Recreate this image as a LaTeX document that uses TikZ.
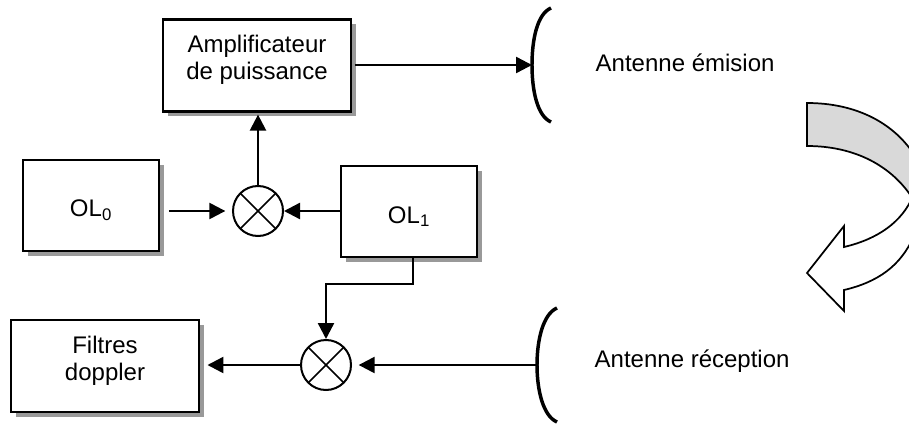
\documentclass[tikz,border=0pt]{standalone}
\usepackage{fontspec}
\setmainfont{Liberation Sans}
\usepackage{xcolor}
\usetikzlibrary{arrows.meta,shadows}

\definecolor{shadegray}{HTML}{999999}
\definecolor{bandgray}{HTML}{D9D9D9}

\begin{document}
\begin{tikzpicture}[
  x=0.75pt, y=-0.75pt,
  bloc/.style={rectangle, draw=black, fill=white, line width=1.7pt, align=center,
             font=\fontsize{18}{20}\selectfont,
             drop shadow={shadow xshift=3.75pt, shadow yshift=-3.75pt, fill=shadegray, opacity=1}},
  blocl/.style={bloc, minimum width=141pt, minimum height=69pt, text depth=12pt},
  blocs/.style={bloc, minimum width=102pt, minimum height=68.25pt, text height=20pt},
  mixer/.style={circle, draw=black, fill=white, line width=1.5pt, minimum size=37.5pt, inner sep=0pt,
             path picture={
               \draw[line width=1.1pt] (path picture bounding box.north west) -- (path picture bounding box.south east);
               \draw[line width=1.1pt] (path picture bounding box.north east) -- (path picture bounding box.south west);}},
  arr/.style={-{Triangle[length=12pt,width=12pt]}, line width=1.8pt},
  ant/.style={line width=2.6pt},
  lab/.style={font=\fontsize{18}{21}\selectfont, anchor=west},
  fleche/.style={draw=black, line width=1.3pt, line join=miter},
]
\useasboundingbox (0,0) rectangle (909,424);

\node[blocl] (ampli)  at (257,65.5)  {Amplificateur\\de puissance};
\node[blocs] (ol0)    at (91,205.5)  {OL\textsubscript{0}};
\node[blocs] (ol1)    at (409,211.5) {OL\textsubscript{1}};
\node[blocl] (filtre) at (105,366)   {Filtres\\doppler};
\node[mixer] (mix1)   at (258,211)   {};
\node[mixer] (mix2)   at (326,365)   {};

\coordinate (ant1) at (532,65);
\coordinate (ant2) at (537,365);
\draw[ant] (551,8) .. controls (537,14) and (532,40) .. (ant1)
           .. controls (532,90) and (537,116) .. (551,122);
\draw[ant] (557,308) .. controls (543,314) and (537,340) .. (ant2)
           .. controls (537,390) and (543,416) .. (557,422);

\node[lab] (emis) at (591,63)  {Antenne émision};
\node[lab] (recp) at (590,361) {Antenne réception};

\draw[arr, shorten <=2pt] (ampli.east |- ant1) -- (ant1);
\draw[arr, shorten <=6.5pt, shorten >=5pt] (ol0.east |- mix1) -- (mix1.west);
\draw[arr] (ol1.west |- mix1) -- (mix1.east);
\draw[arr, shorten >=1.5pt] (mix1.north) -- (ampli.south -| mix1);
\draw[arr] (ol1.south -| 413,0) -- ++(0,26) -| (mix2.north);
\draw[arr, shorten >=5.5pt] (mix2.west) -- (filtre.east |- mix2);
\draw[arr, shorten >=5pt] (ant2) -- (mix2.east);

% fleche courbe, coupee au bord droit
\begin{scope}
  \clip (780,90) rectangle (909,330);
  \draw[fleche, fill=bandgray] (807,103) .. controls (855,103) and (892,122) .. (913,153)
     -- (913,199) .. controls (892,166) and (855,146) .. (807,146) -- cycle;
  \draw[fleche, fill=white] (913,196) .. controls (902,222) and (878,239) .. (844,247)
     -- (844,226) -- (807,273) -- (844,311) -- (844,290)
     .. controls (878,282) and (900,266) .. (913,238);
\end{scope}
\end{tikzpicture}
\end{document}
